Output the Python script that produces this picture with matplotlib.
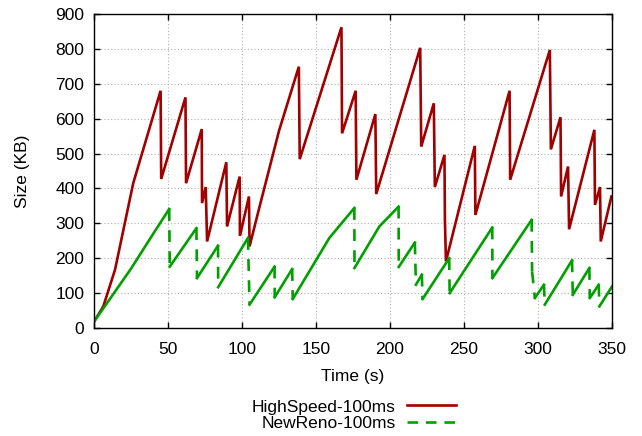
import matplotlib
matplotlib.use("Agg")
import matplotlib.pyplot as plt
from matplotlib.lines import Line2D

plt.rcParams['font.family'] = ['Liberation Sans', 'DejaVu Sans']

# HighSpeed-100ms (time s, size KB)
hs_t = [0, 6.3, 14.2, 26.5, 45.0, 45.4, 61.8, 62.2, 72.8, 73.0, 75.5, 76.4, 89.4, 89.9,
        98.4, 98.6, 104.7, 105.1, 112.0, 125.0, 138.4, 139.0, 167.2, 167.6, 176.8, 177.3,
        190.1, 190.7, 220.4, 221.1, 229.6, 230.3, 236.8, 237.1, 237.8, 257.3, 257.7,
        280.8, 281.2, 308.0, 308.7, 315.2, 315.6, 320.3, 321.0, 338.1, 338.5, 341.9,
        342.4, 349.6]
hs_kb = [18, 62, 167, 415, 680, 427, 661, 415, 570, 358, 404, 248, 475, 291,
         434, 264, 377, 234, 350, 565, 749, 484, 862, 558, 680, 425,
         613, 384, 803, 520, 644, 404, 496, 310, 191, 522, 324,
         680, 425, 797, 512, 604, 377, 463, 283, 568, 353, 404,
         248, 377]

# NewReno-100ms
nr_t = [0, 25, 40, 50.8, 51.2, 69.2, 69.6, 83.8, 83.9, 104.0, 105.1, 122.0, 122.1,
        133.9, 134.3, 159.0, 175.9, 176.0, 192.8, 205.8, 205.9, 216.8, 217.5, 221.5,
        222.0, 240.0, 240.3, 269.1, 269.2, 295.7, 296.0, 297.9, 304.0, 304.6, 323.0,
        323.5, 334.7, 335.0, 341.0, 341.5, 350]
nr_kb = [18, 170, 270, 341, 176, 286, 143, 236, 117, 258, 67, 176, 88,
         169, 83, 258, 344, 172, 291, 348, 175, 245, 124, 153,
         83, 200, 100, 288, 143, 310, 162, 86, 124, 67, 194,
         95, 172, 86, 124, 62, 119]

x_ticks = [0, 50, 100, 150, 200, 250, 300, 350]
y_ticks = [0, 100, 200, 300, 400, 500, 600, 700, 800, 900]

RED = '#a00000'
GREEN = '#00a000'
LW = 1.9

fig = plt.figure(figsize=(6.42, 4.36), dpi=100)
ax = fig.add_axes([94/642, (436-328)/436, (612-94)/642, (328-14)/436])

ax.plot(hs_t, hs_kb, color=RED, lw=LW, solid_joinstyle='miter')

# NewReno: rising parts solid, drops dashed (segment-wise dash like gnuplot)
dash = (0, (4.5, 3.5))
seg_x, seg_y = [nr_t[0]], [nr_kb[0]]
for i in range(1, len(nr_t)):
    if nr_kb[i] >= nr_kb[i-1]:
        seg_x.append(nr_t[i]); seg_y.append(nr_kb[i])
    else:
        if len(seg_x) > 1:
            ax.plot(seg_x, seg_y, color=GREEN, lw=LW)
        ax.plot([nr_t[i-1], nr_t[i]], [nr_kb[i-1], nr_kb[i]], color=GREEN, lw=LW,
                linestyle=dash)
        seg_x, seg_y = [nr_t[i]], [nr_kb[i]]
if len(seg_x) > 1:
    ax.plot(seg_x, seg_y, color=GREEN, lw=LW)

ax.set_xlim(0, 350)
ax.set_ylim(0, 900)
ax.set_xticks(x_ticks)
ax.set_yticks(y_ticks)
ax.grid(True, color='#b0b0b0', linestyle=(0, (1, 2)), lw=0.8)
ax.set_axisbelow(True)
ax.tick_params(direction='in', length=4, width=1, top=True, right=True,
               labelsize=12.5)
ax.tick_params(axis='x', pad=10)
ax.tick_params(axis='y', pad=7)
for s in ax.spines.values():
    s.set_linewidth(1.0)

ax.set_xlabel('Time (s)', fontsize=12.5, labelpad=9)
ax.set_ylabel('Size (KB)', fontsize=12.5, labelpad=18)

handles = [Line2D([], [], color=RED, lw=LW),
           Line2D([], [], color=GREEN, lw=LW, linestyle=(0, (4, 3)))]
fig.legend(handles, ['HighSpeed-100ms', 'NewReno-100ms'], loc='center',
           bbox_to_anchor=(354/642, 1 - 415/436), frameon=False, fontsize=12.5,
           markerfirst=False, handlelength=2.8, handletextpad=0.65,
           labelspacing=0.05, borderpad=0)

fig.savefig('out.png', dpi=100)
